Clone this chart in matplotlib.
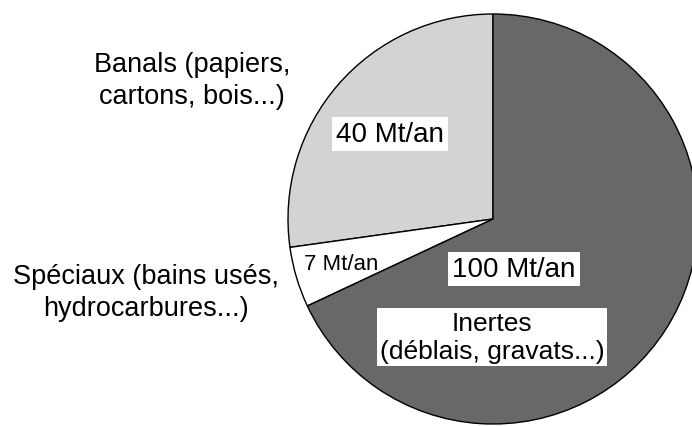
import matplotlib
matplotlib.use("Agg")
import matplotlib.pyplot as plt

plt.rcParams['font.family'] = ['Liberation Sans', 'DejaVu Sans']

# slices, counter-clockwise from the top
values = [40, 7, 100]
colors = ['#d3d3d3', '#ffffff', '#686868']
value_labels = ['40 Mt/an', '7 Mt/an', '100 Mt/an']
banals_label = 'Banals (papiers,\ncartons, bois...)'
speciaux_label = 'Spéciaux (bains usés,\nhydrocarbures...)'
inertes_label = 'Inertes\n(déblais, gravats...)'

W, H = 692, 427
fig = plt.figure(figsize=(W / 100, H / 100), dpi=100)
ax = fig.add_axes([0, 0, 1, 1])

cx, cy, r = 493, H - 220, 205
ax.pie(values, colors=colors, startangle=90, counterclock=True,
       center=(cx, cy), radius=r, frame=True,
       wedgeprops=dict(edgecolor='black', linewidth=1.0))
ax.set_xlim(0, W)
ax.set_ylim(0, H)
ax.set_aspect('equal')
ax.axis('off')

ax.text(192, H - 81, banals_label, ha='center', va='center', fontsize=19.5,
        linespacing=1.3, multialignment='center')
ax.text(146, H - 293, speciaux_label, ha='center', va='center', fontsize=19.5,
        linespacing=1.3, multialignment='center')

box = dict(facecolor='white', edgecolor='none', pad=3)
ax.text(390, H - 135, value_labels[0], ha='center', va='center',
        fontsize=20, bbox=box)
ax.text(341, H - 265, value_labels[1], ha='center', va='center',
        fontsize=16)
ax.text(514, H - 270, value_labels[2], ha='center', va='center',
        fontsize=20, bbox=box)
ax.text(492, H - 338, inertes_label, ha='center', va='center',
        fontsize=19, linespacing=1.25, bbox=dict(facecolor='white',
                                                 edgecolor='none', pad=2))

fig.savefig('out.png', dpi=100)
